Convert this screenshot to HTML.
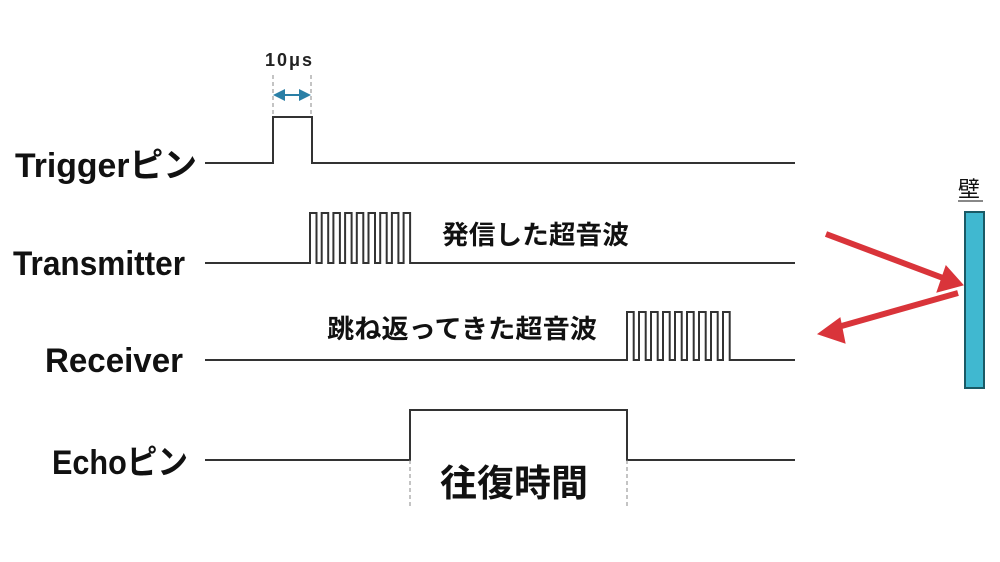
<!DOCTYPE html>
<html><head><meta charset="utf-8"><style>
html,body{margin:0;padding:0;background:#fff;}
svg{display:block;}
.lbl{font-family:"Liberation Sans","Noto Sans CJK JP",sans-serif;font-size:34px;font-weight:bold;fill:#111;}
.jp{font-family:"Noto Sans CJK JP",sans-serif;font-weight:bold;fill:#111;}
</style></head><body>
<svg width="1000" height="562" viewBox="0 0 1000 562" xmlns="http://www.w3.org/2000/svg">
<defs>
<marker id="bl" markerWidth="6" markerHeight="6" refX="5" refY="3" orient="auto-start-reverse"><path d="M0,0 L6,3 L0,6z" fill="#2a7fa6"/></marker>
</defs>
<g class="lbl">
<text x="15" y="177" textLength="182" lengthAdjust="spacingAndGlyphs">Triggerピン</text>
<text x="13" y="275" textLength="172" lengthAdjust="spacingAndGlyphs">Transmitter</text>
<text x="45" y="372" textLength="138" lengthAdjust="spacingAndGlyphs">Receiver</text>
<text x="52" y="474" textLength="136" lengthAdjust="spacingAndGlyphs">Echoピン</text>
</g>
<g fill="none" stroke="#333" stroke-width="2">
<path d="M205,163 H273 V117 H312 V163 H795"/>
<path d="M205,263 H310 V213 h6.5 v50 h5.2 v-50 h6.5 v50 h5.2 v-50 h6.5 v50 h5.2 v-50 h6.5 v50 h5.2 v-50 h6.5 v50 h5.2 v-50 h6.5 v50 h5.2 v-50 h6.5 v50 h5.2 v-50 h6.5 v50 h5.2 v-50 h6.5 v50 H795"/>
<path d="M205,360 H627 V312 h6.7 v48 h5.3 v-48 h6.7 v48 h5.3 v-48 h6.7 v48 h5.3 v-48 h6.7 v48 h5.3 v-48 h6.7 v48 h5.3 v-48 h6.7 v48 h5.3 v-48 h6.7 v48 h5.3 v-48 h6.7 v48 h5.3 v-48 h6.7 v48 H795"/>
<path d="M205,460 H410 V410 H627 V460 H795"/>
</g>
<g stroke="#888" stroke-width="1" stroke-dasharray="4,3">
<line x1="273" y1="75" x2="273" y2="117"/><line x1="311" y1="75" x2="311" y2="117"/>
<line x1="410" y1="460" x2="410" y2="507"/><line x1="627" y1="460" x2="627" y2="507"/>
</g>
<line x1="275" y1="95" x2="309" y2="95" stroke="#2a7fa6" stroke-width="2" marker-start="url(#bl)" marker-end="url(#bl)"/>
<text x="265" y="66" font-family="Liberation Sans,sans-serif" font-size="18" font-weight="bold" fill="#222" letter-spacing="2">10μs</text>
<text x="442" y="244" class="jp" font-size="26" textLength="187" lengthAdjust="spacingAndGlyphs">発信した超音波</text>
<text x="327" y="338" class="jp" font-size="26" textLength="270" lengthAdjust="spacingAndGlyphs">跳ね返ってきた超音波</text>
<text x="440" y="496" class="jp" font-size="37">往復時間</text>
<text x="958" y="197" font-family="Noto Sans CJK JP,sans-serif" font-size="22" fill="#111">壁</text>
<line x1="958" y1="201" x2="983" y2="201" stroke="#111" stroke-width="1"/>
<rect x="965" y="212" width="19" height="176" fill="#40B8D0" stroke="#1a5a66" stroke-width="2"/>
<g fill="#d9343a" stroke="#d9343a">
<line x1="826" y1="234" x2="943" y2="278" stroke-width="6"/>
<path d="M963,285 L937,292 L946,266z"/>
<line x1="958" y1="293" x2="838" y2="327" stroke-width="6"/>
<path d="M818,334 L840,318 L845,343z"/>
</g>
</svg>
</body></html>
